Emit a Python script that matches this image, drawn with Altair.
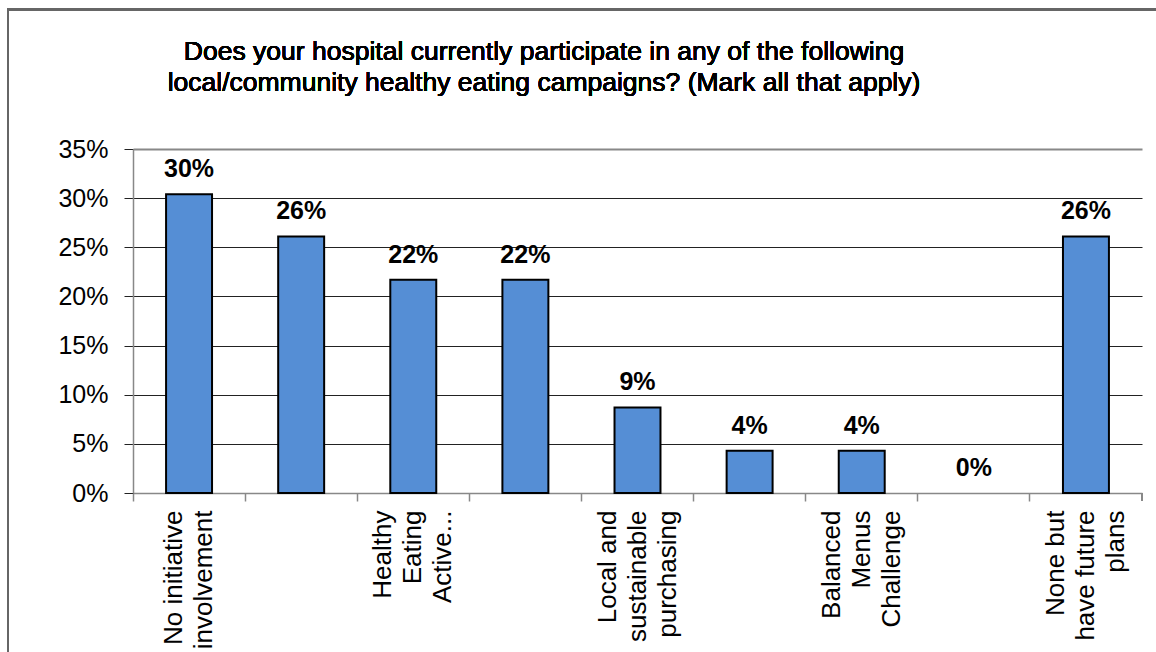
import json
import altair as alt
import pandas as pd

# ---- data ----
category_labels = [
    "No initiative\ninvolvement",
    "",
    "Healthy\nEating\nActive...",
    "",
    "Local and\nsustainable\npurchasing",
    "",
    "Balanced\nMenus\nChallenge",
    "",
    "None but\nhave future\nplans",
]
values = [30.4, 26.1, 21.7, 21.7, 8.7, 4.3, 4.3, 0.0, 26.1]
value_labels = ["30%", "26%", "22%", "22%", "9%", "4%", "4%", "0%", "26%"]
y_ticks = [0, 5, 10, 15, 20, 25, 30, 35]
title_lines = [
    "Does your hospital currently participate in any of the following",
    "local/community healthy eating campaigns? (Mark all that apply)",
]

df = pd.DataFrame({
    "idx": list(range(len(values))),
    "value": values,
    "vlabel": value_labels,
})

W, H = 1009, 344
FONT = "Liberation Sans"
LH = 30

labels_js = json.dumps(category_labels)
label_expr = "split(" + labels_js + "[datum.value], '\\n')"
# centre multi-line rotated labels on the band
offset_expr = "-(length(split(" + labels_js + "[datum.value], '\\n')) - 1) * " + str(LH / 2)

x_enc = alt.X(
    "idx:O",
    scale=alt.Scale(paddingInner=0, paddingOuter=0),
    axis=alt.Axis(
        title=None,
        labelExpr=label_expr,
        labelAngle=270,
        labelAlign="right",
        labelBaseline="middle",
        labelFontSize=26,
        labelLineHeight=LH,
        labelFont=FONT,
        labelColor="black",
        labelPadding=9,
        labelLimit=400,
        labelOverlap=False,
        labelOffset={"expr": offset_expr},
        bandPosition=0,
        tickSize=8,
        tickColor="#888888",
        tickWidth=1.5,
        domainColor="#888888",
        domainWidth=1.5,
        grid=False,
    ),
)

y_enc = alt.Y(
    "value:Q",
    scale=alt.Scale(domain=[0, 35], nice=False, zero=True),
    axis=alt.Axis(
        title=None,
        values=y_ticks,
        labelExpr="datum.value + '%'",
        labelFontSize=25,
        labelFont=FONT,
        labelColor="black",
        labelPadding=16,
        tickSize=9,
        tickColor="#222222",
        domainColor="#888888",
        domainWidth=1.5,
        grid=True,
        gridColor=alt.condition("datum.value == 35", alt.value("#888888"), alt.value("#222222")),
        gridWidth=alt.condition("datum.value == 35", alt.value(2), alt.value(1)),
    ),
)

frame = alt.Chart(df).mark_rect(
    fill="white", fillOpacity=0, stroke="#666666", strokeWidth=2
).encode(
    x=alt.value(-125), x2=alt.value(W + 60),
    y=alt.value(-139.5), y2=alt.value(H + 200),
)

bars = alt.Chart(df).mark_bar(
    color="#558ED5", strokeWidth=2, width={"band": 0.41}
).encode(
    x=x_enc, y=y_enc,
    stroke=alt.condition("datum.value > 0", alt.value("black"), alt.value("transparent")),
)

texts = alt.Chart(df).mark_text(
    baseline="alphabetic", align="center", dy=-17,
    font=FONT, fontSize=25, fontWeight="bold", color="black",
).encode(x="idx:O", y="value:Q", text="vlabel:N")

end_tick = alt.Chart(df).mark_rule(color="#888888", strokeWidth=1.5).encode(
    x=alt.value(W), y=alt.value(H), y2=alt.value(H + 8)
)

title = alt.Chart(df).mark_text(
    align="center", baseline="alphabetic", fontSize=26.5, lineHeight=31,
    font=FONT, color="black",
).encode(
    x=alt.value(411), y=alt.value(60 - 149), text=alt.value(title_lines)
)

chart = alt.layer(frame, bars, texts, end_tick, title).properties(
    width=W, height=H,
    autosize="none",
    padding={"left": 133, "top": 149, "right": 14, "bottom": 159},
    background="white",
).configure_view(strokeWidth=0)

chart.save("out.html", embed_options={"renderer": "svg", "actions": False})
